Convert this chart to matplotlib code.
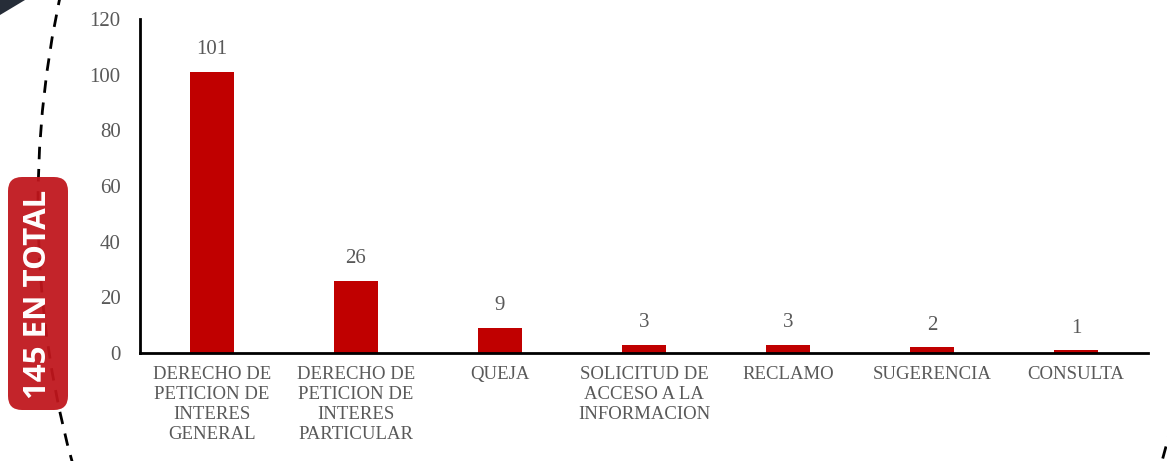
import matplotlib.pyplot as plt
import numpy as np
from matplotlib.patches import Ellipse, FancyBboxPatch, Polygon

categorias = ['DERECHO DE\nPETICION DE\nINTERES\nGENERAL',
              'DERECHO DE\nPETICION DE\nINTERES\nPARTICULAR',
              'QUEJA',
              'SOLICITUD DE\nACCESO A LA\nINFORMACION',
              'RECLAMO',
              'SUGERENCIA',
              'CONSULTA']
valores = [101, 26, 9, 3, 3, 2, 1]
total_texto = '145 EN TOTAL'

gris = '#595959'
rojo = '#c00000'
serif = ['Liberation Serif', 'DejaVu Serif']

fig = plt.figure(figsize=(11.67, 4.61), dpi=100)

# decoracion de fondo: elipse punteada y triangulo oscuro
elipse = Ellipse((617 / 1167, 1 - 205 / 461), 2 * 579 / 1167, 2 * 760 / 461,
                 transform=fig.transFigure, fill=False, edgecolor='black',
                 linewidth=2, linestyle=(0, (4.5, 3.5)), zorder=0)
fig.patches.append(elipse)
tri = Polygon([(0, 1), (25 / 1167, 1), (0, 1 - 15 / 461)], closed=True,
              transform=fig.transFigure, facecolor='#262d38', edgecolor='none')
fig.patches.append(tri)

ax = fig.add_axes([140 / 1167, (461 - 353) / 461, 1008 / 1167, 334 / 461])
ax.patch.set_alpha(0)

x = np.arange(len(categorias))
barras = ax.bar(x, valores, width=0.31, color=rojo, zorder=2)

for xi, v in zip(x, valores):
    ax.annotate(str(v), (xi, v), xytext=(0, 9), textcoords='offset points',
                ha='center', va='bottom', fontsize=15, color=gris, family=serif)

ax.set_xlim(-0.5, len(categorias) - 0.5)
ax.set_ylim(0, 120)
ax.set_yticks(np.arange(0, 121, 20))
ax.set_xticks(x)
ax.set_xticklabels(categorias, fontsize=13.5, color=gris, family=serif, linespacing=1.25)
for lbl in ax.get_yticklabels():
    lbl.set_family(serif)
ax.tick_params(axis='y', length=0, pad=14, labelsize=15, labelcolor=gris)
ax.tick_params(axis='x', length=0, pad=9)

for s in ['top', 'right']:
    ax.spines[s].set_visible(False)
ax.spines['left'].set_linewidth(2)
ax.spines['bottom'].set_linewidth(2)

# caja roja con el total
caja = FancyBboxPatch((8 / 1167, 1 - 410 / 461), 60 / 1167, 233 / 461,
                      boxstyle='round,pad=0,rounding_size=0.012',
                      transform=fig.transFigure, facecolor='#c0161c',
                      edgecolor='none', alpha=0.94, mutation_aspect=1167 / 461)
fig.patches.append(caja)
fig.text(38 / 1167, 1 - 294 / 461, total_texto, rotation=90, ha='center', va='center',
         fontsize=22.5, color='white', fontweight='bold', family=['Open Sans', 'DejaVu Sans'])

fig.savefig('out.png', dpi=100)
